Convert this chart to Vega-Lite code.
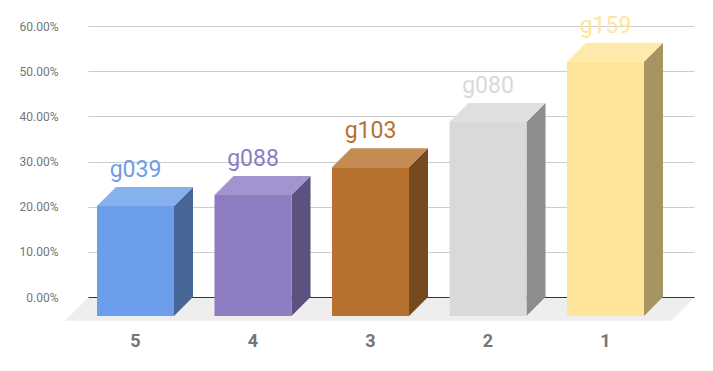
{
  "$schema": "https://vega.github.io/schema/vega-lite/v6.json",
  "width": 606,
  "height": 271,
  "autosize": {"type": "none"},
  "padding": {"left": 88, "top": 26, "right": 19, "bottom": 74},
  "background": "white",
  "config": {"view": {"stroke": null}, "font": "Roboto"},
  "data": {
    "values": [
      {"rank": "5", "name": "g039", "value": 0.2015},
      {"rank": "4", "name": "g088", "value": 0.2258},
      {"rank": "3", "name": "g103", "value": 0.2872},
      {"rank": "2", "name": "g080", "value": 0.3874},
      {"rank": "1", "name": "g159", "value": 0.521}
    ]
  },
  "encoding": {
    "x": {
      "field": "rank",
      "type": "nominal",
      "sort": ["5", "4", "3", "2", "1"],
      "scale": {"paddingInner": 0, "paddingOuter": 0.0787, "align": 0.419},
      "axis": {
        "title": null,
        "domain": true,
        "domainColor": "#333333",
        "domainWidth": 1,
        "ticks": false,
        "tickSize": 0,
        "grid": false,
        "labelAngle": 0,
        "labelPadding": 35,
        "labelOffset": -19,
        "labelFont": "Roboto",
        "labelFontSize": 18,
        "labelFontWeight": "bold",
        "labelColor": "#757575"
      }
    },
    "y": {
      "field": "value",
      "type": "quantitative",
      "scale": {"domain": [0, 0.6], "nice": false, "zero": true},
      "axis": {
        "title": null,
        "domain": false,
        "ticks": false,
        "tickSize": 0,
        "values": [0, 0.1, 0.2, 0.3, 0.4, 0.5, 0.6],
        "format": ".2%",
        "labelPadding": 30,
        "labelFont": "Roboto",
        "labelFontSize": 12,
        "labelColor": "#757575",
        "gridColor": "#cccccc",
        "gridWidth": 1
      }
    }
  },
  "layer": [
    {
      "transform": [{"filter": "datum.rank === '3'"}],
      "mark": {"type": "point", "shape": "M-301.5,1L304.5,1L281.5,23.7L-324.5,23.7Z", "size": 4, "filled": true, "opacity": 1, "strokeWidth": 0, "fill": "#eeeeee"},
      "encoding": {
        "y": {"datum": 0}
      }
    },
    {
      "mark": {"type": "bar", "width": 19, "xOffset": 29, "x2Offset": 29, "opacity": 1},
      "encoding": {
        "y2": {"datum": 0},
        "color": {"field": "rank", "type": "nominal", "legend": null,
          "scale": {"domain": ["5", "4", "3", "2", "1"], "range": ["#476799", "#5c517f", "#77491f", "#8d8d8d", "#a69563"]}}
      }
    },
    {
      "mark": {"type": "point", "shape": "M19.5,1L19.5,0L38.5,-19L38.5,1Z", "size": 4, "filled": true, "opacity": 1, "strokeWidth": 0},
      "encoding": {
        "color": {"field": "rank", "type": "nominal", "legend": null,
          "scale": {"domain": ["5", "4", "3", "2", "1"], "range": ["#476799", "#5c517f", "#77491f", "#8d8d8d", "#a69563"]}}
      }
    },
    {
      "mark": {"type": "point", "shape": "M19.5,-1L38.5,-1L38.5,0L19.5,19Z", "size": 4, "filled": true, "opacity": 1, "strokeWidth": 0},
      "encoding": {
        "y": {"datum": 0},
        "color": {"field": "rank", "type": "nominal", "legend": null,
          "scale": {"domain": ["5", "4", "3", "2", "1"], "range": ["#476799", "#5c517f", "#77491f", "#8d8d8d", "#a69563"]}}
      }
    },
    {
      "mark": {"type": "point", "shape": "M-57.5,0L19.5,0L38.5,-19L-38.5,-19Z", "size": 4, "filled": true, "opacity": 1, "strokeWidth": 0},
      "encoding": {
        "color": {"field": "rank", "type": "nominal", "legend": null,
          "scale": {"domain": ["5", "4", "3", "2", "1"], "range": ["#87b0ef", "#a294ce", "#c48b55", "#e0e0e0", "#ffeaab"]}}
      }
    },
    {
      "mark": {"type": "bar", "width": 77, "xOffset": -19, "x2Offset": -19, "y2Offset": 19, "opacity": 1},
      "encoding": {
        "y2": {"datum": 0},
        "color": {"field": "rank", "type": "nominal", "legend": null,
          "scale": {"domain": ["5", "4", "3", "2", "1"], "range": ["#6d9eeb", "#8e7cc3", "#b7712f", "#d9d9d9", "#ffe599"]}}
      }
    },
    {
      "mark": {"type": "text", "dx": -19, "dy": -29, "baseline": "alphabetic", "align": "center", "font": "Roboto", "fontSize": 23},
      "encoding": {
        "text": {"field": "name"},
        "color": {"field": "rank", "type": "nominal", "legend": null,
          "scale": {"domain": ["5", "4", "3", "2", "1"], "range": ["#6d9eeb", "#8e7cc3", "#b7712f", "#d9d9d9", "#ffe599"]}}
      }
    }
  ],
  "resolve": {"scale": {"color": "independent"}}
}
